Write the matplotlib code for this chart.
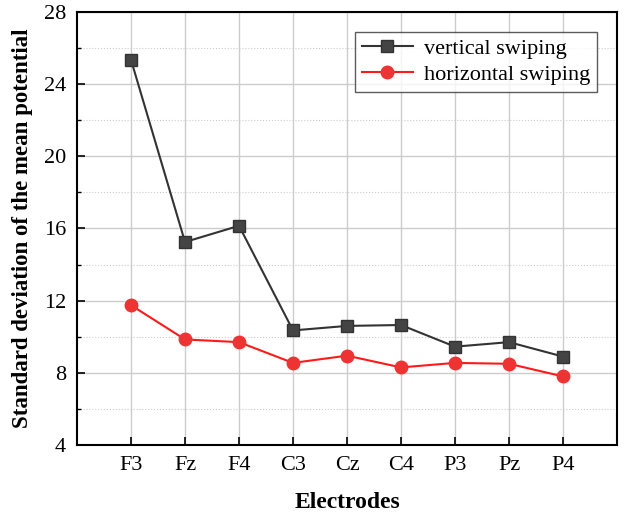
import numpy as np
import matplotlib
matplotlib.use("Agg")
import matplotlib.pyplot as plt
from matplotlib.ticker import MultipleLocator

# data
ELECTRODES = ["F3", "Fz", "F4", "C3", "Cz", "C4", "P3", "Pz", "P4"]
VERTICAL   = [25.35, 15.25, 16.15, 10.35, 10.6, 10.65, 9.45, 9.7, 8.9]
HORIZONTAL = [11.75, 9.85, 9.7, 8.55, 8.95, 8.3, 8.55, 8.5, 7.8]

plt.rcParams['font.family'] = ['Liberation Serif', 'DejaVu Serif']

fig = plt.figure(figsize=(6.24, 5.17), dpi=100, facecolor='white')
ax = fig.add_axes([0.1234, 0.1393, 0.8654, 0.8375])

x = np.arange(len(ELECTRODES))

ax.plot(x, VERTICAL, color='#333333', lw=1.5, marker='s', ms=8.5,
        mfc='#444444', mec='#333333', label='vertical swiping', zorder=3)
ax.plot(x, HORIZONTAL, color='#ff1a1a', lw=1.5, marker='o', ms=9,
        mfc='#ee3333', mec='#ee3333', label='horizontal swiping', zorder=3)

ax.set_xlim(-1, 9)
ax.set_ylim(4, 28)
ax.set_xticks(x)
ax.set_xticklabels(ELECTRODES)
ax.yaxis.set_major_locator(MultipleLocator(4))
ax.yaxis.set_minor_locator(MultipleLocator(2))

ax.grid(True, which='major', color='#cccccc', lw=1.0)
ax.grid(True, which='minor', axis='y', color='#cccccc', lw=0.8, ls=':')
ax.set_axisbelow(True)

ax.tick_params(axis='both', which='major', direction='in', length=6,
               width=1.2, labelsize=16, pad=8)
ax.tick_params(axis='y', which='minor', direction='in', length=3, width=1.0)
for s in ax.spines.values():
    s.set_linewidth(1.5)

ax.set_xlabel("Electrodes", fontsize=17, fontweight='bold', labelpad=12)
ax.set_ylabel("Standard deviation of the mean potential", fontsize=16.5,
              fontweight='bold', labelpad=8)

leg = ax.legend(loc='upper right', bbox_to_anchor=(0.963, 0.954), fontsize=16,
                frameon=True, fancybox=False, edgecolor='#333333',
                handlelength=2.3, borderpad=0.3, labelspacing=0.25,
                handletextpad=0.5, borderaxespad=0)
leg.get_frame().set_linewidth(1.0)

fig.savefig("out.png", dpi=100, facecolor='white')
